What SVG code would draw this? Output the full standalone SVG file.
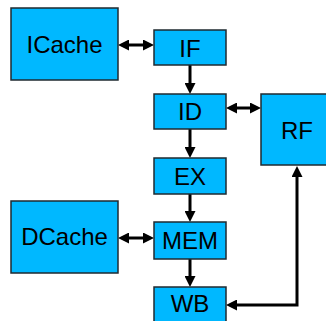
<svg xmlns="http://www.w3.org/2000/svg" width="326" height="321" viewBox="0 0 326 321">
  <defs>
    <style>
      .box { fill: #00B8FF; stroke: #1f2a30; stroke-width: 1.5; }
      .lbl { font-family: "Liberation Sans", Arial, sans-serif; font-size: 24px; fill: #000; text-anchor: middle; }
      .wire { fill: none; stroke: #000; stroke-width: 3; }
    </style>
    <!-- head sits beyond the line end: base at refX=0, tip 11px out -->
    <marker id="head" viewBox="0 0 11 11" refX="0" refY="5.5" markerWidth="11" markerHeight="11" markerUnits="userSpaceOnUse" orient="auto-start-reverse">
      <path d="M0,0 L11,5.5 L0,11 Z" fill="#000"/>
    </marker>
  </defs>

  <rect width="326" height="321" fill="#fff"/>

  <g id="connectors">
    <!-- ICache <-> IF -->
    <line class="wire" x1="129" y1="45" x2="143" y2="45" marker-start="url(#head)" marker-end="url(#head)"/>
    <!-- IF -> ID -->
    <line class="wire" x1="190" y1="65" x2="190" y2="83" marker-end="url(#head)"/>
    <!-- ID <-> RF -->
    <line class="wire" x1="237" y1="108" x2="250" y2="108" marker-start="url(#head)" marker-end="url(#head)"/>
    <!-- ID -> EX -->
    <line class="wire" x1="190" y1="129" x2="190" y2="147" marker-end="url(#head)"/>
    <!-- EX -> MEM -->
    <line class="wire" x1="190" y1="194" x2="190" y2="211" marker-end="url(#head)"/>
    <!-- DCache <-> MEM -->
    <line class="wire" x1="129" y1="238" x2="143" y2="238" marker-start="url(#head)" marker-end="url(#head)"/>
    <!-- MEM -> WB -->
    <line class="wire" x1="190" y1="259" x2="190" y2="276" marker-end="url(#head)"/>
    <!-- WB <-> RF -->
    <polyline class="wire" points="237,305 297,305 297,177" marker-start="url(#head)" marker-end="url(#head)"/>
  </g>

  <g id="icache">
    <rect class="box" x="11" y="8" width="107" height="72"/>
    <text class="lbl" x="64.5" y="52.5">ICache</text>
  </g>
  <g id="if">
    <rect class="box" x="154" y="30" width="72" height="35"/>
    <text class="lbl" x="190" y="56.5">IF</text>
  </g>
  <g id="id">
    <rect class="box" x="154" y="94" width="72" height="35"/>
    <text class="lbl" x="190" y="120">ID</text>
  </g>
  <g id="rf">
    <rect class="box" x="261" y="94" width="72" height="71"/>
    <text class="lbl" x="297" y="138.5">RF</text>
  </g>
  <g id="ex">
    <rect class="box" x="154" y="158" width="72" height="36"/>
    <text class="lbl" x="190" y="185">EX</text>
  </g>
  <g id="dcache">
    <rect class="box" x="11" y="201" width="107" height="72"/>
    <text class="lbl" x="64.5" y="244.5">DCache</text>
  </g>
  <g id="mem">
    <rect class="box" x="154" y="222" width="72" height="37"/>
    <text class="lbl" x="190" y="249">MEM</text>
  </g>
  <g id="wb">
    <rect class="box" x="154" y="287" width="72" height="40"/>
    <text class="lbl" x="190" y="312">WB</text>
  </g>
</svg>
